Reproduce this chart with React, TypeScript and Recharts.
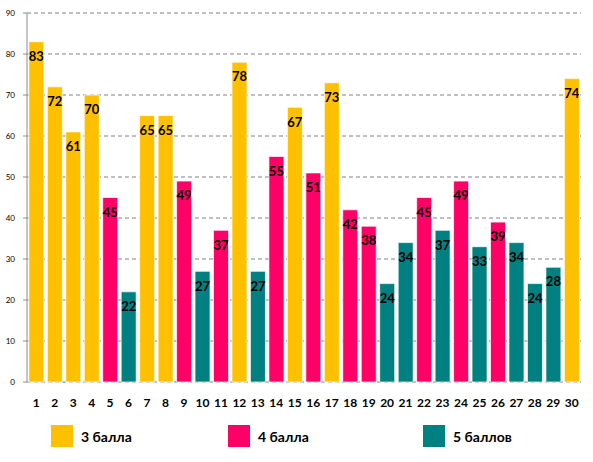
import React from "react";
import { BarChart, Bar, Cell, XAxis, YAxis, CartesianGrid, LabelList } from "recharts";

const categories = [
    "1", "2", "3", "4", "5", "6", "7", "8", "9", "10",
    "11", "12", "13", "14", "15", "16", "17", "18", "19", "20",
    "21", "22", "23", "24", "25", "26", "27", "28", "29", "30",
];
const scores = [
    83, 72, 61, 70, 45, 22, 65, 65, 49, 27,
    37, 78, 27, 55, 67, 51, 73, 42, 38, 24,
    34, 45, 37, 49, 33, 39, 34, 24, 28, 74,
];
const grades = [
    3, 3, 3, 3, 4, 5, 3, 3, 4, 5,
    4, 3, 5, 4, 3, 4, 3, 4, 4, 5,
    5, 4, 5, 4, 5, 4, 5, 5, 5, 3,
];
const legendGrades = [3, 4, 5];
const legendLabels = ["3 балла", "4 балла", "5 баллов"];
const yTicks = [0, 10, 20, 30, 40, 50, 60, 70, 80, 90];

const gradeColors: Record<number, string> = {
    3: "#FFC000",
    4: "#FF0066",
    5: "#008080",
};

const data = categories.map((name, i) => ({ name, value: scores[i], grade: grades[i] }));
// tick marks sit on the band edges, like the Excel original
const edgeTicks = [0, ...categories.map((_, i) => i + 1)];

const legendLeft = [51, 228, 423];

export default function App() {
    return (
        <div style={{ position: "absolute", left: 0, top: 0, width: 593, height: 462, background: "#fff", fontFamily: "Lato, sans-serif" }}>
            <BarChart
                width={593}
                height={420}
                data={data}
                margin={{ top: 13, right: 12, bottom: 0, left: 0 }}
                barCategoryGap="10%"
            >
                <CartesianGrid vertical={false} stroke="#808080" strokeDasharray="4 3" />
                <XAxis
                    xAxisId="edge"
                    type="number"
                    domain={[0, categories.length]}
                    allowDataOverflow
                    ticks={edgeTicks}
                    tick={false}
                    tickSize={5}
                    height={0}
                    axisLine={{ stroke: "#8c8c8c" }}
                    tickLine={{ stroke: "#8c8c8c" }}
                />
                <XAxis
                    dataKey="name"
                    xAxisId="cat"
                    height={38}
                    axisLine={false}
                    tickLine={false}
                    tickSize={0}
                    tickMargin={16}
                    interval={0}
                    tick={{ fill: "#000", fontSize: 12, fontWeight: 700, fontFamily: "Lato, sans-serif" }}
                />
                <YAxis
                    width={27}
                    domain={[0, 90]}
                    ticks={yTicks}
                    interval={0}
                    tickSize={4}
                    tickMargin={8}
                    axisLine={{ stroke: "#8c8c8c" }}
                    tickLine={{ stroke: "#8c8c8c" }}
                    tick={{ fill: "#000", fontSize: 8, fontFamily: "Lato, sans-serif" }}
                />
                <Bar
                    dataKey="value"
                    xAxisId="cat"
                    isAnimationActive={false}
                    stroke="#ffffff"
                    strokeOpacity={0.7}
                    strokeWidth={1}
                >
                    {data.map((d, i) => (
                        <Cell key={i} fill={gradeColors[d.grade]} />
                    ))}
                    <LabelList
                        dataKey="value"
                        position="insideTop"
                        offset={10}
                        fill="#000"
                        fontSize={13}
                        fontWeight={700}
                        fontFamily="Lato, sans-serif"
                    />
                </Bar>
            </BarChart>
            {legendGrades.map((g, i) => (
                <div
                    key={g}
                    style={{ position: "absolute", left: legendLeft[i], top: 425, display: "flex", alignItems: "center" }}
                >
                    <div style={{ width: 22, height: 22, background: gradeColors[g] }} />
                    <span style={{ marginLeft: 8, fontSize: 14, fontWeight: 700, color: "#000" }}>{legendLabels[i]}</span>
                </div>
            ))}
        </div>
    );
}
